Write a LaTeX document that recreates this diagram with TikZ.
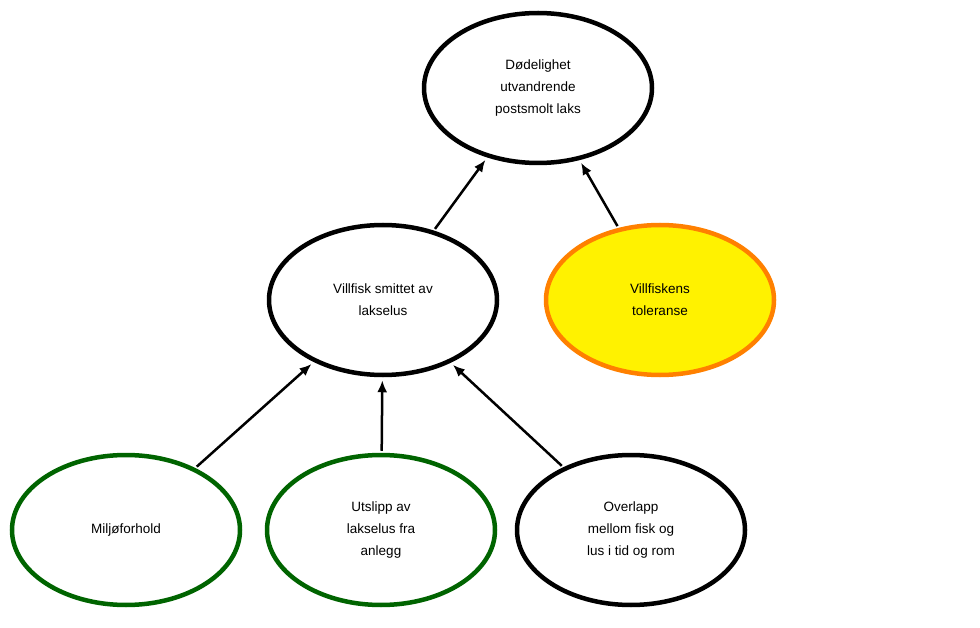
\documentclass[tikz,border=0pt]{standalone}
\usepackage{fontspec}
\setmainfont{Liberation Sans}
\usetikzlibrary{shapes.geometric,arrows.meta}
\begin{document}
\begin{tikzpicture}[x=1pt,y=1pt,
  ell/.style={ellipse,draw=black,line width=4.5pt,minimum width=228pt,minimum height=150pt,inner sep=0pt,align=center,font=\fontsize{13.5}{22}\selectfont},
  green/.style={draw={rgb,255:red,0;green,100;blue,0}},
  yel/.style={draw={rgb,255:red,255;green,128;blue,0},fill={rgb,255:red,255;green,242;blue,0}},
  arr/.style={line width=2.5pt,-{Latex[length=12pt,width=10pt]},shorten >=3pt,shorten <=2pt}]
\useasboundingbox (0,0) rectangle (980,-628);
\node[ell] (top) at (538,-88) {Dødelighet\\utvandrende\\postsmolt laks};
\node[ell] (vs) at (383,-300) {Villfisk smittet av\\lakselus};
\node[ell,yel] (tol) at (660,-300) {Villfiskens\\toleranse};
\node[ell,green] (mil) at (126,-530) {Miljøforhold};
\node[ell,green] (uts) at (381,-530) {Utslipp av\\lakselus fra\\anlegg};
\node[ell] (ove) at (631,-530) {Overlapp\\mellom fisk og\\lus i tid og rom};
\draw[arr] (vs) -- (top);
\draw[arr] (tol) -- (top);
\draw[arr] (mil) -- (vs);
\draw[arr] (uts) -- (vs);
\draw[arr] (ove) -- (vs);
\end{tikzpicture}
\end{document}
